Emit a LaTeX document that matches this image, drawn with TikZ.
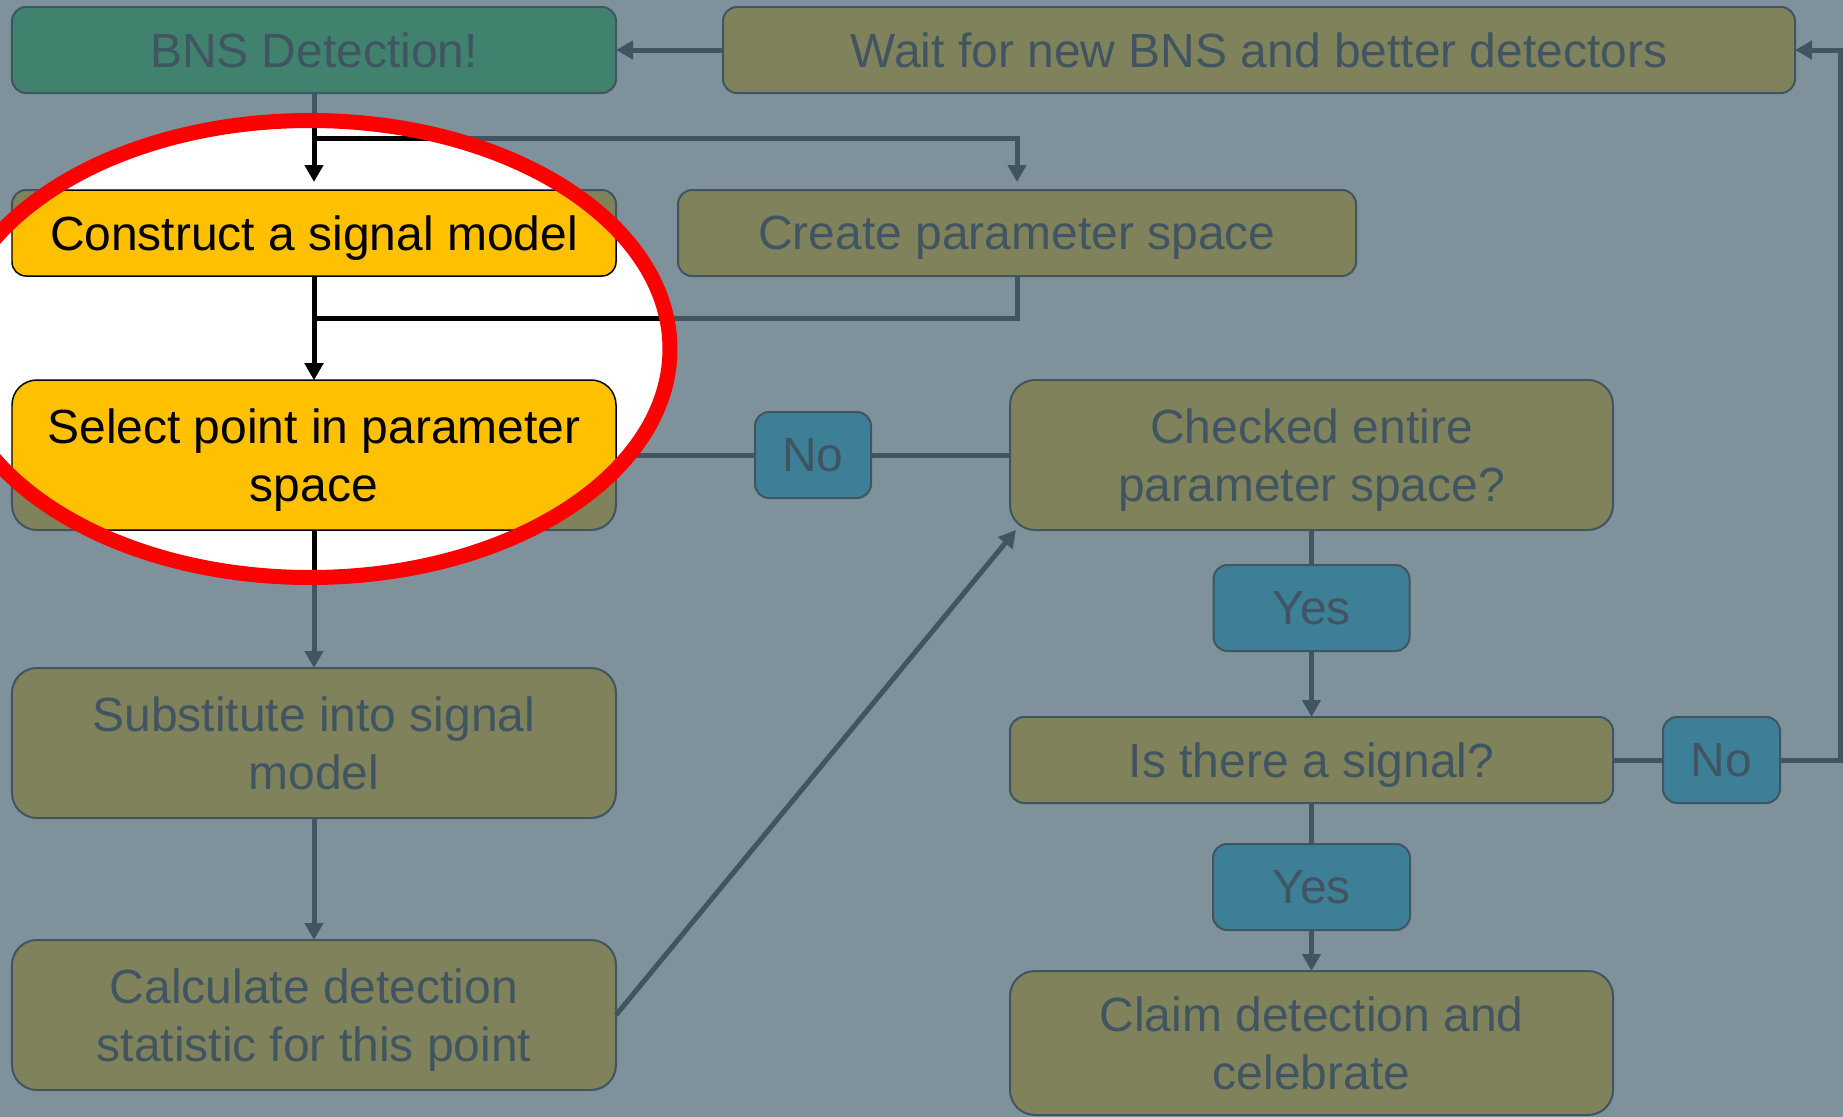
\documentclass[tikz,border=0pt]{standalone}
\usepackage{fontspec}
\setsansfont{Liberation Sans}
\usepackage{xcolor}
\usepackage{tikz}
\usetikzlibrary{positioning,arrows.meta,calc}
\definecolor{fcSlate}{HTML}{7F929B}
\definecolor{fcOlive}{HTML}{7F825B}
\definecolor{fcTeal}{HTML}{41826F}
\definecolor{fcBlue}{HTML}{3D7F97}
\definecolor{fcInk}{HTML}{405561}
\definecolor{fcYellow}{HTML}{FFC000}
\definecolor{fcRed}{HTML}{FF0000}
\tikzset{
  fc-box/.style={
    draw=fcInk, line width=0.2mm, rounded corners=1.4mm,
    font={\fontsize{13.65}{16.4}\selectfont\sffamily}, text=fcInk, align=center,
    inner sep=0pt, outer sep=0pt, text depth=0pt, minimum height=8.6mm
  },
  fc-olive/.style={fc-box, fill=fcOlive},
  fc-teal/.style={fc-box, fill=fcTeal},
  fc-blue/.style={fc-box, fill=fcBlue},
  fc-tall/.style={minimum height=15mm, rounded corners=2.5mm},
  fc-yellow/.style={fc-box, draw=black, line width=0.15mm, fill=fcYellow, text=black},
  fc-flow/.style={-{Triangle[width=1.8mm,length=1.7mm]}, line width=0.5mm, draw=fcInk},
  fc-link/.style={line width=0.5mm, draw=fcInk},
  fc-flow-hi/.style={fc-flow, draw=black},
  fc-link-hi/.style={fc-link, draw=black},
  fc-ring/.style={draw=fcRed, line width=1.5mm}
}

\begin{document}
\begin{tikzpicture}
\useasboundingbox (0,0) rectangle (184.3mm,-111.7mm);
\fill[fcSlate] (0,0) rectangle (184.3mm,-111.7mm);

% --- top row ---
\node[fc-teal, minimum width=60.4mm, anchor=north west] (bns) at (1.2mm,-0.7mm)
  {BNS Detection!};
\node[fc-olive, minimum width=107.2mm, right=10.7mm of bns] (wait)
  {Wait for new BNS and better detectors};

% --- model and parameter space ---
\node[fc-olive, minimum width=60.4mm, below=9.7mm of bns] (construct)
  {Construct a signal model};
\node[fc-olive, minimum width=67.8mm, right=6.2mm of construct] (create)
  {Create parameter space};
\node[fc-olive, fc-tall, minimum width=60.4mm, below=10.4mm of construct] (select)
  {Select point in parameter\\space};
\node[fc-olive, fc-tall, minimum width=60.4mm, below=13.8mm of select] (subst)
  {Substitute into signal\\model};
\node[fc-olive, fc-tall, minimum width=60.4mm, below=12.2mm of subst] (calc)
  {Calculate detection\\statistic for this point};

% --- decisions ---
\node[fc-blue, minimum width=11.6mm, right=13.9mm of select] (noA) {No};
\node[fc-olive, fc-tall, minimum width=60.3mm, right=13.9mm of noA] (check)
  {Checked entire\\parameter space?};
\node[fc-blue, minimum width=19.6mm, below=3.5mm of check] (yesA) {Yes};
\node[fc-olive, minimum width=60.3mm, below=6.6mm of yesA] (signal)
  {Is there a signal?};
\node[fc-blue, minimum width=11.7mm, right=5mm of signal] (noB) {No};
\node[fc-blue, minimum width=19.7mm, below=4.1mm of signal] (yesB) {Yes};
\node[fc-olive, fc-tall, minimum height=14.4mm, minimum width=60.3mm,
  below=4.1mm of yesB] (claim) {Claim detection and\\celebrate};

% --- flow ---
\draw[fc-flow] (wait.west) -- (bns.east);
\draw[fc-flow, shorten >=0.8mm] (bns.south) -- (construct.north);
\draw[fc-flow, shorten >=0.8mm] (bns.south) -- ++(0,-4.5mm) -| (create.north);
\draw[fc-flow] (construct.south) -- (select.north);
\draw[fc-flow] (create.south) -- ++(0,-4.2mm) -| (select.north);
\draw[fc-flow] (select.south) -- (subst.north);
\draw[fc-flow] (subst.south) -- (calc.north);
\draw[fc-flow] (calc.east) -- ([xshift=0.6mm]check.south west);
\draw[fc-link] (select.east) -- (noA.west);
\draw[fc-link] (noA.east) -- (check.west);
\draw[fc-link] (check.south) -- (yesA.north);
\draw[fc-flow] (yesA.south) -- (signal.north);
\draw[fc-link] (signal.south) -- (yesB.north);
\draw[fc-flow] (yesB.south) -- (claim.north);
\draw[fc-link] (signal.east) -- (noB.west);
\draw[fc-flow] (noB.east) -- ++(6mm,0) |- (wait.east);

% --- highlight ---
\begin{scope}
  \clip (31mm,-34.9mm) ellipse [x radius=36mm, y radius=22.85mm];
  \fill[white] (0,0) rectangle (184.3mm,-111.7mm);
  \node[fc-yellow, minimum width=60.4mm] (constructHi) at (construct)
    {Construct a signal model};
  \node[fc-yellow, fc-tall, minimum width=60.4mm] (selectHi) at (select)
    {Select point in parameter\\space};
  \draw[fc-flow-hi, shorten >=0.8mm] (bns.south) -- (constructHi.north);
  \draw[fc-link-hi] (bns.south) -- ++(0,-4.5mm) -| (create.north);
  \draw[fc-flow-hi] (constructHi.south) -- (selectHi.north);
  \draw[fc-flow-hi] (create.south) -- ++(0,-4.2mm) -| (selectHi.north);
  \draw[fc-link-hi] (selectHi.south) -- (subst.north);
\end{scope}
\draw[fc-ring] (31mm,-34.9mm) ellipse [x radius=36mm, y radius=22.85mm];
\end{tikzpicture}
\end{document}
